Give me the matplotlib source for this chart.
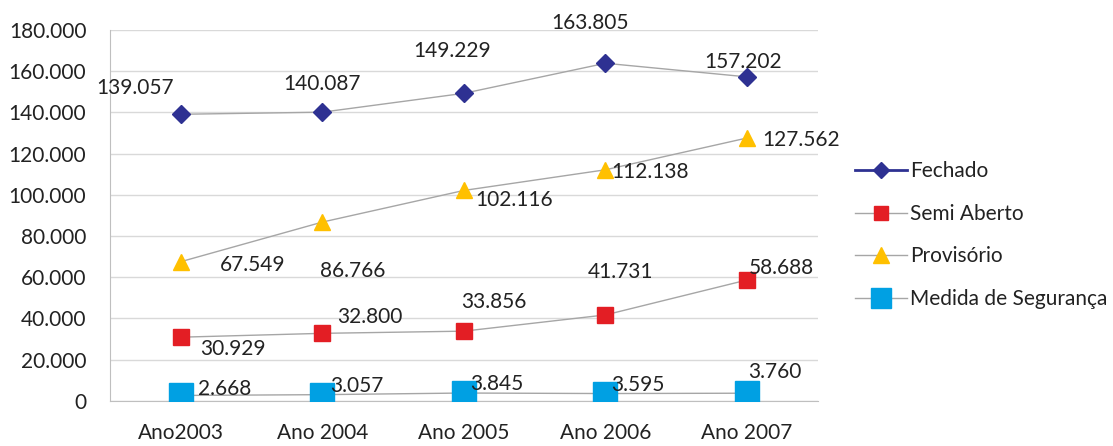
import numpy as np
import matplotlib.pyplot as plt
from matplotlib.ticker import FuncFormatter
from matplotlib.lines import Line2D

plt.rcParams['font.family'] = ['Lato', 'DejaVu Sans']

anos = ['Ano2003', 'Ano 2004', 'Ano 2005', 'Ano 2006', 'Ano 2007']
fechado = [139057, 140087, 149229, 163805, 157202]
semi_aberto = [30929, 32800, 33856, 41731, 58688]
provisorio = [67549, 86766, 102116, 112138, 127562]
medida = [2668, 3057, 3845, 3595, 3760]

# label offsets in pixels (dx, dy) for each point
off_fechado = [(-46, 26), (0, 28), (-12, 42), (-15, 40), (-4, 15)]
off_semi = [(52, -12), (48, 16), (30, 29), (15, 43), (34, 12)]
off_prov = [(72, -3), (30, -49), (50, -10), (45, -2), (54, -2)]
off_medida = [(44, 6), (35, 9), (33, 9), (32, 9), (28, 21)]

fig = plt.figure(figsize=(11.13, 4.46), dpi=100)
ax = fig.add_axes([0.0988, 0.101, 0.636, 0.832])

x = np.arange(len(anos))
grey = '#a6a6a6'
ax.plot(x, fechado, color=grey, lw=1, marker='D', ms=9, mfc='#2e3192', mec='#2e3192', zorder=3)
ax.plot(x, semi_aberto, color=grey, lw=1, marker='s', ms=11, mfc='#e31e24', mec='#e31e24', zorder=3)
ax.plot(x, provisorio, color=grey, lw=1, marker='^', ms=12, mfc='#ffc000', mec='#ffc000', zorder=3)
ax.plot(x, medida, color=grey, lw=1, marker='s', ms=17, mfc='#00a0e3', mec='#00a0e3', zorder=3)

def fmt(v):
    return f'{v:,}'.replace(',', '.')

for vals, offs in [(fechado, off_fechado), (semi_aberto, off_semi),
                   (provisorio, off_prov), (medida, off_medida)]:
    for xi, v, (dx, dy) in zip(x, vals, offs):
        ax.annotate(fmt(v), (xi, v), xytext=(dx, dy), textcoords='offset pixels',
                    ha='center', va='center', fontsize=15, color='#222222', zorder=4)

ax.set_xlim(-0.5, 4.5)
ax.set_ylim(0, 180000)
ax.set_yticks(np.arange(0, 180001, 20000))
ax.yaxis.set_major_formatter(FuncFormatter(lambda v, p: fmt(int(v))))
ax.set_xticks(x)
ax.set_xticklabels(anos)
ax.tick_params(axis='both', length=0, labelsize=15, colors='#222222')
ax.tick_params(axis='x', pad=16)
ax.tick_params(axis='y', pad=17)
ax.grid(axis='y', color='#d9d9d9', lw=1)
ax.set_axisbelow(True)
for s in ['top', 'right']:
    ax.spines[s].set_visible(False)
for s in ['left', 'bottom']:
    ax.spines[s].set_color('#bfbfbf')

# legend
handles = [
    Line2D([], [], color='#2e3192', lw=2, marker='D', ms=8, mfc='#2e3192', mec='#2e3192'),
    Line2D([], [], color=grey, lw=1, marker='s', ms=10, mfc='#e31e24', mec='#e31e24'),
    Line2D([], [], color=grey, lw=1, marker='^', ms=11, mfc='#ffc000', mec='#ffc000'),
    Line2D([], [], color=grey, lw=1, marker='s', ms=15, mfc='#00a0e3', mec='#00a0e3'),
]
labels = ['Fechado', 'Semi Aberto', 'Provisório', 'Medida de Segurança']
fig.legend(handles, labels, loc='upper left', bbox_to_anchor=(0.751, 0.68),
           frameon=False, fontsize=15, handlelength=2.5, handletextpad=0.15,
           labelspacing=1.08, labelcolor='#222222')

fig.savefig('out.png', dpi=100)
